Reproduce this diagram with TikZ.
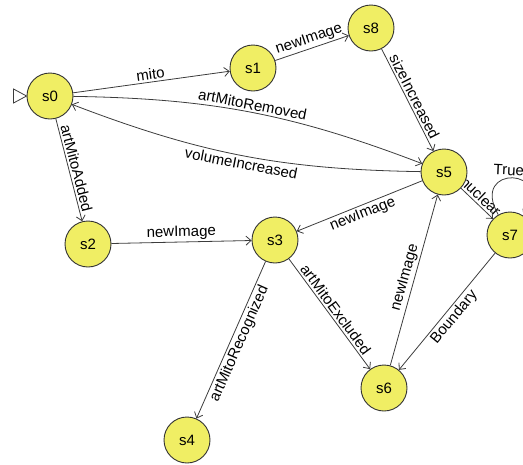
\documentclass[tikz,border=0pt]{standalone}
\usepackage{fontspec}
\setmainfont{Liberation Sans}
\usepackage{xcolor}
\usetikzlibrary{arrows.meta, backgrounds}

\definecolor{stateyellow}{RGB}{240,238,100}
\definecolor{edgegray}{RGB}{60,60,60}

\begin{document}
\begin{tikzpicture}[
    x=1pt, y=1pt,
    state/.style={circle, minimum size=46pt, inner sep=0pt, draw=black!80, line width=0.9pt, fill=stateyellow, font=\fontsize{15}{18}\selectfont},
    line/.style={draw=edgegray, line width=0.8pt, -{Straight Barb[length=5pt, width=9pt]}},
    elabel/.style={font=\fontsize{15}{18}\selectfont, sloped, inner sep=2pt}
]
    \useasboundingbox (0,0) rectangle (523,-464);
    \node[state] (s0) at (50,-96) {s0};
    \node[state] (s1) at (253,-68) {s1};
    \node[state] (s8) at (371,-28) {s8};
    \node[state] (s5) at (444,-172) {s5};
    \node[state] (s7) at (510,-235) {s7};
    \node[state] (s2) at (88,-244) {s2};
    \node[state] (s3) at (275,-240) {s3};
    \node[state] (s6) at (384,-388) {s6};
    \node[state] (s4) at (187,-440) {s4};

    % start marker
    \draw[draw=edgegray, line width=0.8pt] (s0.west) -- ++(-13,7) -- ++(0,-14) -- cycle;

    % Connectors
    \begin{scope}[on background layer]
    \draw[line] (s0) -- node[elabel, above] {mito} (s1);
    \draw[line] (s1) -- node[elabel, above] {newImage} (s8);
    \draw[line] (s8) -- node[elabel, above] {sizeIncreased} (s5);
    \draw[line] (s0) to[bend left=10] node[elabel, above] {artMitoRemoved} (s5);
    \draw[line] (s5) to[bend left=10] node[elabel, below] {volumeIncreased} (s0);
    \draw[line] (s0) -- node[elabel, above] {artMitoAdded} (s2);
    \draw[line] (s2) -- node[elabel, above] {newImage} (s3);
    \draw[line] (s5) -- node[elabel, below] {newImage} (s3);
    \draw[line] (s3) -- node[elabel, below] {artMitoRecognized} (s4);
    \draw[line] (s3) -- node[elabel, above] {artMitoExcluded} (s6);
    \draw[line] (s6) -- node[elabel, above] {newImage} (s5);
    \draw[line] (s7) -- node[elabel, below] {Boundary} (s6);
    \draw[line] (s5) -- node[elabel, above, pos=0.45] {nuclear} (s7);
    \draw[line] (s7) to[out=120, in=55, looseness=6] node[elabel, above, xshift=-4pt] {True} (s7);
    \end{scope}
\end{tikzpicture}
\end{document}
